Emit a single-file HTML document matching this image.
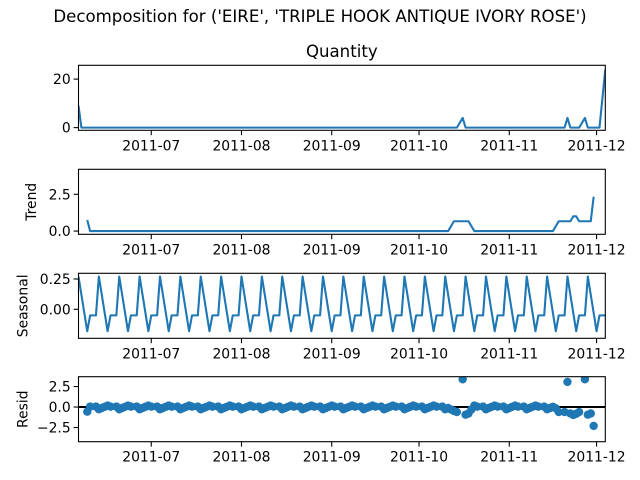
<!DOCTYPE html>
<html><head><meta charset="utf-8"><style>
body{margin:0;background:#fff;width:640px;height:480px;overflow:hidden}
svg{display:block;font-family:"DejaVu Sans","Liberation Sans",sans-serif}
</style></head><body>
<svg id="chart" width="640" height="480" viewBox="0 0 640 480">
<rect width="640" height="480" fill="#fff"/>
<text x="320" y="22" font-size="16.6" text-anchor="middle">Decomposition for ('EIRE', 'TRIPLE HOOK ANTIQUE IVORY ROSE')</text>
<text x="341.8" y="57" font-size="16.6" text-anchor="middle">Quantity</text>
</svg>
<script>
// ---- data ----
const startDate = "2011-06-06";
const endDate = "2011-12-04";
const spikeDates = ["2011-06-06", "2011-10-16", "2011-11-21", "2011-11-27", "2011-12-02", "2011-12-04"];
const spikeValues = [9, 4, 4, 4, 0, 24];
// seasonal component by weekday (Sun..Fri, Saturday absent)
const seasonalWeekdays = [0, 1, 2, 3, 4, 5];
const seasonalValues = [-0.05, 0.27, 0.12, -0.03, -0.18, -0.05];
const monthTicks = ["2011-07-01", "2011-08-01", "2011-09-01", "2011-10-01", "2011-11-01", "2011-12-01"];
const monthLabels = ["2011-07", "2011-08", "2011-09", "2011-10", "2011-11", "2011-12"];
const qTicks = [0, 20];
const qTickLabels = ["0", "20"];
const tTicks = [0, 2.5];
const tTickLabels = ["0.0", "2.5"];
const sTicks = [0.25, 0];
const sTickLabels = ["0.25", "0.00"];
const rTicks = [2.5, 0, -2.5];
const rTickLabels = ["2.5", "0.0", "\u22122.5"];

// ---- build series ----
const DAY = 86400000;
const t0 = Date.parse(startDate), t1 = Date.parse(endDate);
const dates = [];
for (let t = t0; t <= t1; t += DAY) { if (new Date(t).getUTCDay() !== 6) dates.push(t); }
const qty = dates.map(t => { const i = spikeDates.findIndex(d => Date.parse(d) === t); return i >= 0 ? spikeValues[i] : 0; });
const seas = dates.map(t => seasonalValues[seasonalWeekdays.indexOf(new Date(t).getUTCDay())]);
const trend = dates.map((t, i) => {
  if (i < 3 || i > dates.length - 4) return null;
  let s = 0.5 * qty[i - 3] + 0.5 * qty[i + 3];
  for (let k = -2; k <= 2; k++) s += qty[i + k];
  return s / 6;
});
const resid = dates.map((t, i) => trend[i] === null ? null : qty[i] - trend[i] - seas[i]);

// ---- layout ----
const svg = document.getElementById('chart');
const NS = 'http://www.w3.org/2000/svg';
const L = 78.5, R = 605.3;
const xS = t => L + (t - t0) / (t1 - t0) * (R - L);
function el(tag, attrs, parent) { const e = document.createElementNS(NS, tag); for (const k in attrs) e.setAttribute(k, attrs[k]); (parent || svg).appendChild(e); return e; }

const panels = [
  {name: 'quantity', top: 65.3, bot: 130.3, ymin: -1.1, ymax: 25.7, ticks: qTicks, labels: qTickLabels, ylabel: null, data: qty},
  {name: 'trend', top: 169.3, bot: 234.3, ymin: -0.22, ymax: 4.2, ticks: tTicks, labels: tTickLabels, ylabel: 'Trend', data: trend},
  {name: 'seasonal', top: 273.3, bot: 338.3, ymin: -0.239, ymax: 0.297, ticks: sTicks, labels: sTickLabels, ylabel: 'Seasonal', data: seas},
  {name: 'resid', top: 376.7, bot: 441.7, ymin: -4.23, ymax: 3.7, ticks: rTicks, labels: rTickLabels, ylabel: 'Resid', data: resid, dots: true}
];

panels.forEach(p => {
  const g = el('g', {});
  
  
  const yS = v => p.bot - (v - p.ymin) / (p.ymax - p.ymin) * (p.bot - p.top);
  const clipId = 'clip-' + p.name;
  const cp = el('clipPath', {id: clipId}, g);
  el('rect', {x: L, y: p.top, width: R - L, height: p.bot - p.top}, cp);
  const plot = el('g', {'clip-path': 'url(#' + clipId + ')'}, g);
  if (p.dots) {
    const zl = el('line', {x1: L, x2: R, y1: yS(0), y2: yS(0), stroke: '#000', 'stroke-width': 2}, plot);
    
    
    p.data.forEach((v, i) => {
      if (v === null) return;
      const c = el('circle', {cx: xS(dates[i]), cy: yS(v), r: 4.2, fill: '#1f77b4'}, plot);
      
      
    });
  } else {
    let d = '';
    p.data.forEach((v, i) => { if (v === null) return; d += (d ? 'L' : 'M') + xS(dates[i]).toFixed(2) + ',' + yS(v).toFixed(2); });
    const path = el('path', {d: d, fill: 'none', stroke: '#1f77b4', 'stroke-width': 2.1, 'stroke-linejoin': 'round'}, plot);
    
    
  }
  const frame = el('rect', {x: L, y: p.top, width: R - L, height: p.bot - p.top, fill: 'none', stroke: '#000', 'stroke-width': 1.1}, g);
  
  
  p.ticks.forEach((v, i) => {
    const y = yS(v);
    el('line', {x1: L - 4.9, x2: L, y1: y, y2: y, stroke: '#000', 'stroke-width': 1.1}, g);
    const tx = el('text', {x: L - 7.8, y: y + 5, 'font-size': 13.9, 'text-anchor': 'end'}, g);
    tx.textContent = p.labels[i];
    
    
  });
  monthTicks.forEach((m, i) => {
    const x = xS(Date.parse(m));
    el('line', {x1: x, x2: x, y1: p.bot, y2: p.bot + 4.9, stroke: '#000', 'stroke-width': 1.1}, g);
    const tx = el('text', {x: x, y: p.bot + 20, 'font-size': 13.9, 'text-anchor': 'middle'}, g);
    tx.textContent = monthLabels[i];
    
    
  });
  if (p.ylabel) {
    const w = Math.max(...p.labels.map(s => s.length)) * 8.85;
    const x = L - 7.8 - w - 8;
    const cy = (p.top + p.bot) / 2;
    const yl = el('text', {x: 0, y: 0, 'font-size': 13.9, 'text-anchor': 'middle', transform: 'translate(' + x + ',' + cy + ') rotate(-90)'}, g);
    yl.textContent = p.ylabel;
    
    
  }
});
</script>
</body></html>
